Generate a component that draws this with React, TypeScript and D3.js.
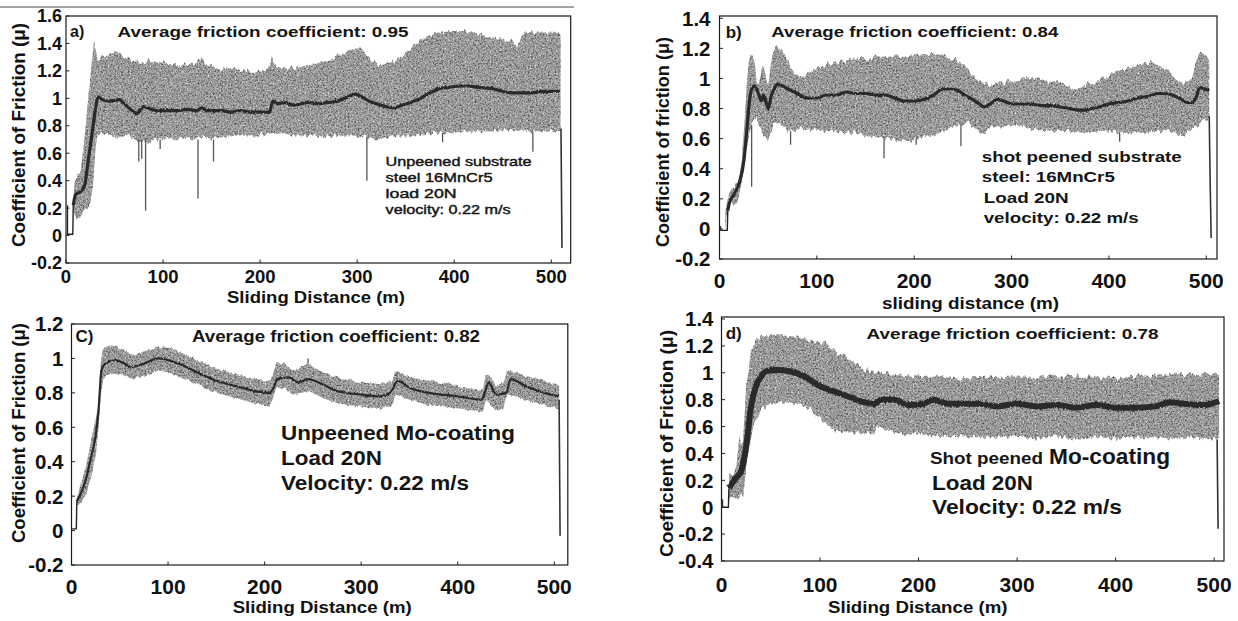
import React from 'react';
import * as d3 from 'd3';

type P = [number, number];
type S = [number, number, number];

// ---------- tick values ----------
const xTicks = [0, 100, 200, 300, 400, 500];
const aYTicks = [-0.2, 0, 0.2, 0.4, 0.6, 0.8, 1, 1.2, 1.4, 1.6];
const bYTicks = [-0.2, 0, 0.2, 0.4, 0.6, 0.8, 1, 1.2, 1.4];
const cYTicks = [-0.2, 0, 0.2, 0.4, 0.6, 0.8, 1, 1.2];
const dYTicks = [-0.4, -0.2, 0, 0.2, 0.4, 0.6, 0.8, 1, 1.2, 1.4];

// ---------- panel a : unpeened substrate ----------
const aUpper: P[] = [[7,0.22],[9,0.4],[12,0.44],[15,0.46],[19,0.7],[22,0.95],[25,1.14],[29,1.43],[31,1.35],[33,1.28],[38,1.3],[45,1.32],[54,1.33],[62,1.3],[70,1.28],[74,1.25],[84,1.27],[94,1.27],[105,1.25],[115,1.24],[125,1.25],[135,1.26],[140,1.3],[143,1.25],[155,1.22],[165,1.22],[176,1.21],[186,1.2],[196,1.19],[205,1.2],[210,1.24],[212,1.32],[214,1.24],[222,1.22],[237,1.22],[247,1.24],[257,1.25],[267,1.27],[277,1.3],[288,1.33],[298,1.38],[304,1.36],[310,1.31],[316,1.27],[322,1.24],[330,1.25],[338,1.27],[346,1.31],[354,1.36],[362,1.41],[371,1.45],[385,1.48],[399,1.49],[410,1.49],[420,1.48],[430,1.46],[440,1.44],[450,1.43],[460,1.41],[464,1.37],[468,1.42],[472,1.48],[485,1.48],[501,1.48],[509.5,1.47]];
const aLower: P[] = [[7,0.2],[10,0.14],[15,0.14],[20,0.19],[25,0.22],[28,0.4],[30,0.6],[32,0.73],[40,0.75],[48,0.73],[55,0.71],[65,0.74],[74,0.68],[84,0.69],[94,0.7],[105,0.71],[115,0.7],[125,0.71],[135,0.71],[145,0.72],[155,0.71],[165,0.72],[176,0.73],[186,0.73],[196,0.73],[206,0.74],[216,0.75],[226,0.74],[237,0.73],[247,0.73],[257,0.73],[267,0.72],[277,0.73],[288,0.73],[298,0.73],[310,0.72],[320,0.7],[330,0.71],[338,0.73],[350,0.73],[360,0.73],[370,0.74],[380,0.75],[390,0.75],[400,0.75],[410,0.76],[420,0.76],[430,0.76],[440,0.76],[450,0.77],[460,0.77],[470,0.76],[480,0.76],[490,0.76],[500,0.76],[509.5,0.76]];
const aMean: P[] = [[7.5,0.22],[10,0.3],[15,0.32],[19,0.36],[23,0.55],[27,0.75],[31,0.95],[33,1.01],[38,0.99],[45,0.98],[55,0.99],[60,0.96],[65,0.93],[70,0.9],[73,0.89],[80,0.94],[88,0.92],[95,0.91],[105,0.91],[115,0.91],[125,0.92],[135,0.91],[140,0.93],[145,0.91],[160,0.91],[170,0.9],[180,0.91],[190,0.9],[200,0.9],[210,0.9],[213,0.98],[218,0.96],[225,0.97],[235,0.95],[250,0.97],[260,0.96],[270,0.97],[280,0.98],[290,1.01],[298,1.03],[305,1.01],[312,0.98],[320,0.96],[330,0.94],[338,0.93],[346,0.95],[355,0.97],[365,1.0],[375,1.04],[385,1.07],[395,1.08],[405,1.09],[415,1.09],[425,1.08],[440,1.07],[450,1.05],[460,1.04],[470,1.04],[480,1.04],[490,1.05],[500,1.05],[509,1.05]];
const aLead: P[] = [[1.5,0.22],[1.5,0.01],[7,0.01],[7.5,0.22]];
const aTail: P[] = [[510,0.78],[511,-0.09]];
const aSpikes: S[] = [[75,0.7,0.54],[78,0.7,0.56],[82,0.7,0.18],[97,0.7,0.63],[136,0.7,0.27],[152,0.7,0.54],[310,0.72,0.4],[388,0.75,0.68],[481,0.76,0.61]];

// ---------- panel b : shot peened substrate ----------
const bUpper: P[] = [[6,0.12],[10,0.24],[15,0.29],[20,0.33],[23,0.45],[25,0.64],[28,0.95],[30,1.1],[32,1.16],[34,1.14],[36,1.11],[38,1.0],[40,0.95],[43,1.05],[45,1.09],[48,1.0],[50,0.95],[53,1.1],[55,1.17],[58,1.21],[62,1.19],[65,1.17],[72,1.09],[80,1.01],[90,1.03],[100,1.07],[110,1.09],[120,1.11],[130,1.12],[140,1.13],[150,1.13],[160,1.14],[170,1.14],[180,1.15],[190,1.15],[200,1.16],[210,1.16],[220,1.17],[228,1.16],[235,1.14],[243,1.12],[250,1.1],[255,1.06],[260,1.02],[265,0.98],[270,0.96],[280,0.96],[290,0.97],[300,0.99],[310,1.0],[320,1.0],[330,0.99],[340,0.98],[350,0.97],[358,0.95],[365,0.93],[372,0.94],[380,0.96],[390,0.99],[400,1.02],[410,1.05],[420,1.07],[430,1.09],[440,1.11],[450,1.09],[460,1.06],[468,1.0],[475,0.95],[480,0.97],[485,1.0],[490,1.12],[493,1.17],[500,1.16],[503,1.12]];
const bLower: P[] = [[6,0.0],[7,0.09],[12,0.16],[18,0.17],[22,0.29],[25,0.42],[28,0.55],[30,0.62],[33,0.69],[38,0.73],[42,0.66],[45,0.62],[50,0.6],[53,0.64],[55,0.69],[60,0.7],[65,0.68],[70,0.65],[80,0.66],[90,0.66],[100,0.66],[110,0.65],[120,0.65],[130,0.64],[140,0.64],[150,0.62],[160,0.61],[170,0.6],[180,0.59],[190,0.59],[200,0.6],[210,0.61],[220,0.62],[230,0.65],[240,0.68],[250,0.7],[255,0.71],[262,0.67],[268,0.63],[274,0.65],[280,0.68],[290,0.68],[300,0.69],[310,0.68],[320,0.66],[330,0.66],[340,0.65],[350,0.65],[360,0.65],[370,0.64],[380,0.64],[390,0.65],[400,0.65],[410,0.64],[420,0.64],[430,0.64],[440,0.64],[450,0.65],[460,0.66],[468,0.64],[475,0.61],[480,0.64],[485,0.66],[490,0.69],[495,0.71],[503,0.73]];
const bMean: P[] = [[8.5,0.12],[10,0.17],[15,0.23],[20,0.3],[25,0.45],[28,0.65],[30,0.8],[33,0.93],[36,0.95],[40,0.9],[43,0.85],[45,0.89],[48,0.84],[50,0.8],[53,0.88],[56,0.93],[60,0.96],[65,0.95],[70,0.93],[80,0.9],[90,0.87],[100,0.87],[110,0.89],[120,0.89],[130,0.91],[140,0.9],[150,0.9],[160,0.89],[170,0.89],[180,0.87],[190,0.85],[200,0.85],[210,0.86],[220,0.89],[230,0.93],[238,0.93],[245,0.92],[252,0.89],[260,0.86],[267,0.83],[272,0.81],[280,0.84],[285,0.86],[292,0.85],[300,0.83],[310,0.83],[320,0.83],[330,0.82],[340,0.82],[350,0.81],[360,0.8],[368,0.79],[375,0.79],[382,0.8],[390,0.81],[400,0.83],[410,0.84],[420,0.85],[430,0.87],[440,0.88],[450,0.9],[458,0.9],[465,0.89],[472,0.87],[480,0.84],[485,0.84],[490,0.88],[493,0.94],[498,0.93],[503,0.92]];
const bLead: P[] = [[1,0.02],[1,-0.01],[8,-0.01],[8.5,0.12]];
const bTail: P[] = [[503,0.75],[504,0.3],[505,-0.06]];
const bSpikes: S[] = [[33,0.69,0.28],[73,0.65,0.56],[169,0.6,0.47],[202,0.6,0.56],[248,0.7,0.55],[411,0.64,0.58]];

// ---------- panel c : unpeened Mo-coating ----------
const cUpper: P[] = [[5.5,0.19],[10,0.28],[15,0.37],[20,0.52],[25,0.64],[28,0.75],[30,0.95],[32,1.04],[36,1.07],[45,1.07],[55,1.05],[62,1.02],[75,1.04],[90,1.07],[100,1.06],[115,1.03],[130,0.99],[150,0.94],[170,0.91],[190,0.88],[200,0.87],[205,0.87],[208,0.9],[212,0.97],[220,0.97],[229,0.93],[238,0.95],[245,0.97],[250,0.95],[260,0.92],[275,0.89],[300,0.86],[320,0.85],[332,0.87],[336,0.93],[340,0.92],[350,0.89],[370,0.87],[400,0.84],[426,0.81],[429,0.91],[433,0.9],[439,0.84],[447,0.85],[451,0.93],[460,0.92],[470,0.9],[490,0.87],[505,0.84]];
const cLower: P[] = [[5.5,0.15],[10,0.16],[15,0.21],[20,0.31],[25,0.43],[28,0.6],[30,0.78],[33,0.88],[36,0.91],[45,0.91],[55,0.9],[62,0.88],[75,0.9],[90,0.93],[100,0.92],[115,0.89],[130,0.85],[150,0.8],[170,0.77],[190,0.74],[200,0.73],[205,0.72],[208,0.76],[212,0.83],[220,0.83],[229,0.79],[238,0.8],[245,0.81],[250,0.8],[260,0.77],[275,0.74],[300,0.72],[320,0.71],[332,0.73],[336,0.79],[340,0.78],[350,0.76],[370,0.73],[400,0.71],[426,0.69],[429,0.76],[433,0.74],[439,0.7],[447,0.71],[451,0.79],[460,0.78],[470,0.76],[490,0.73],[505,0.71]];
const cMean: P[] = [[5.5,0.17],[10,0.22],[15,0.3],[20,0.42],[25,0.55],[28,0.7],[31,0.93],[35,0.97],[45,0.99],[55,0.97],[62,0.95],[75,0.97],[90,1.0],[100,0.99],[115,0.96],[130,0.92],[150,0.87],[170,0.84],[190,0.81],[205,0.8],[210,0.84],[213,0.88],[225,0.89],[235,0.86],[245,0.88],[260,0.85],[275,0.81],[300,0.79],[320,0.78],[330,0.8],[338,0.87],[350,0.83],[370,0.8],[400,0.78],[425,0.76],[428,0.8],[432,0.86],[440,0.79],[450,0.8],[455,0.88],[470,0.84],[490,0.8],[505,0.78]];
const cLead: P[] = [[0.5,0.01],[5,0.01],[5.5,0.17]];
const cTail: P[] = [[505,0.76],[506,-0.03]];
const cSpikes: S[] = [[245,0.97,1.0]];

// ---------- panel d : shot peened Mo-coating ----------
const dUpper: P[] = [[7.5,0.14],[8,0.25],[12,0.24],[15,0.3],[18,0.53],[20,0.45],[22,0.5],[25,0.9],[30,1.15],[35,1.25],[45,1.28],[60,1.28],[75,1.27],[90,1.24],[100,1.21],[105,1.23],[110,1.18],[115,1.16],[130,1.1],[145,1.02],[160,1.0],[180,0.99],[200,0.97],[220,0.97],[240,0.96],[260,0.96],[280,0.97],[300,0.97],[320,0.97],[340,0.98],[360,0.97],[380,0.97],[400,0.96],[420,0.98],[440,0.98],[460,0.99],[480,0.99],[500,1.0],[505,0.98]];
const dLower: P[] = [[7.5,0.0],[8,0.08],[15,0.07],[22,0.08],[25,0.3],[28,0.45],[32,0.6],[40,0.73],[50,0.77],[70,0.78],[85,0.75],[95,0.7],[105,0.63],[115,0.57],[125,0.56],[140,0.55],[155,0.55],[158,0.6],[170,0.57],[185,0.54],[200,0.55],[220,0.53],[240,0.53],[260,0.52],[280,0.52],[300,0.53],[320,0.51],[340,0.53],[360,0.51],[380,0.52],[400,0.51],[420,0.52],[440,0.52],[460,0.51],[480,0.52],[500,0.5],[505,0.5]];
const dMean: P[] = [[7.5,0.14],[10,0.17],[15,0.22],[20,0.27],[25,0.45],[30,0.75],[35,0.9],[40,0.97],[45,1.01],[55,1.02],[70,1.01],[85,0.97],[100,0.9],[115,0.86],[130,0.82],[145,0.78],[155,0.77],[162,0.8],[175,0.8],[190,0.76],[205,0.77],[215,0.8],[230,0.77],[260,0.77],[280,0.75],[300,0.77],[320,0.75],[340,0.76],[360,0.74],[380,0.76],[400,0.74],[420,0.74],[440,0.75],[455,0.78],[470,0.77],[490,0.76],[505,0.79]];
const dLead: P[] = [[1,0.06],[1,0.0],[7,0.0],[7.5,0.14]];
const dTail: P[] = [[503,0.5],[504,-0.16]];
const dSpikes: S[] = [];

// ---------- layout ----------
type Txt = { t: string; x: number; y: number; s: number; w?: number; normal?: boolean };
type Panel = {
  id: string; l: number; r: number; t: number; b: number; xMax: number; yDom: [number, number];
  yTicks: number[]; upper: P[]; lower: P[]; mean: P[]; lead: P[]; tail: P[]; spikes: S[];
  meanW: number; rough: number; yTickFont: number; xTickFont: number; yGap: number; xBase: number;
  yLabel: { t: string; x: number; y: number; len: number };
  xLabel: { t: string; x: number; y: number; len: number };
  texts: Txt[];
};

const panels: Panel[] = [
  {
    id: 'a', l: 66, r: 570.7, t: 16, b: 263, xMax: 520, yDom: [-0.2, 1.6], yTicks: aYTicks,
    upper: aUpper, lower: aLower, mean: aMean, lead: aLead, tail: aTail, spikes: aSpikes,
    meanW: 3.2, rough: 10, yTickFont: 18, xTickFont: 18.5, yGap: 4, xBase: 19.5,
    yLabel: { t: 'Coefficient of Friction (μ)', x: 18, y: 135, len: 224 },
    xLabel: { t: 'Sliding Distance (m)', x: 227, y: 303, len: 178 },
    texts: [
      { t: 'a)', x: 70, y: 37, s: 16 },
      { t: 'Average friction coefficient: 0.95', x: 117.6, y: 37, s: 15.5, w: 291 },
      { t: 'Unpeened substrate', x: 385.6, y: 166, s: 13.5, w: 146, normal: true },
      { t: 'steel 16MnCr5', x: 385.6, y: 182, s: 13.5, w: 107, normal: true },
      { t: 'load 20N', x: 385.6, y: 198, s: 13.5, w: 71, normal: true },
      { t: 'velocity: 0.22 m/s', x: 385.6, y: 214, s: 13.5, w: 125, normal: true },
    ],
  },
  {
    id: 'b', l: 719.5, r: 1217, t: 16, b: 259, xMax: 511, yDom: [-0.2, 1.415], yTicks: bYTicks,
    upper: bUpper, lower: bLower, mean: bMean, lead: bLead, tail: bTail, spikes: bSpikes,
    meanW: 3.2, rough: 10, yTickFont: 20.5, xTickFont: 21, yGap: 9, xBase: 29,
    yLabel: { t: 'Coefficient of friction (μ)', x: 662, y: 142, len: 210 },
    xLabel: { t: 'sliding distance (m)', x: 882, y: 309, len: 177 },
    texts: [
      { t: 'b)', x: 725.7, y: 38, s: 17 },
      { t: 'Average friction coefficient: 0.84', x: 771.3, y: 37, s: 15.5, w: 287 },
      { t: 'shot peened substrate', x: 981.8, y: 162, s: 15, w: 200 },
      { t: 'steel: 16MnCr5', x: 981.8, y: 182, s: 15, w: 133 },
      { t: 'Load 20N', x: 983.7, y: 203, s: 15, w: 85 },
      { t: 'velocity: 0.22 m/s', x: 983.7, y: 223, s: 15, w: 155 },
    ],
  },
  {
    id: 'c', l: 71.5, r: 567.8, t: 324, b: 565, xMax: 514, yDom: [-0.2, 1.2], yTicks: cYTicks,
    upper: cUpper, lower: cLower, mean: cMean, lead: cLead, tail: cTail, spikes: cSpikes,
    meanW: 2.2, rough: 5, yTickFont: 20.5, xTickFont: 21, yGap: 8, xBase: 29,
    yLabel: { t: 'Coefficient of Friction (μ)', x: 18.7, y: 433, len: 220 },
    xLabel: { t: 'Sliding Distance (m)', x: 232.7, y: 613, len: 179 },
    texts: [
      { t: 'C)', x: 75.5, y: 342, s: 17 },
      { t: 'Average friction coefficient: 0.82', x: 192, y: 342, s: 16, w: 288 },
      { t: 'Unpeened Mo-coating', x: 281, y: 440, s: 21, w: 234 },
      { t: 'Load 20N', x: 281, y: 465, s: 21, w: 101 },
      { t: 'Velocity: 0.22 m/s', x: 281, y: 490, s: 21, w: 188 },
    ],
  },
  {
    id: 'd', l: 721.5, r: 1224, t: 317, b: 561, xMax: 510, yDom: [-0.4, 1.415], yTicks: dYTicks,
    upper: dUpper, lower: dLower, mean: dMean, lead: dLead, tail: dTail, spikes: dSpikes,
    meanW: 6, rough: 10, yTickFont: 20.5, xTickFont: 21, yGap: 8, xBase: 31,
    yLabel: { t: 'Coefficient of Friction (μ)', x: 666, y: 443.5, len: 227 },
    xLabel: { t: 'Sliding Distance (m)', x: 828, y: 613, len: 179.5 },
    texts: [
      { t: 'd)', x: 725.7, y: 339, s: 17 },
      { t: 'Average friction coefficient: 0.78', x: 866.6, y: 339, s: 15.5, w: 292 },
      { t: 'Shot peened', x: 930, y: 464, s: 16, w: 113 },
      { t: 'Mo-coating', x: 1049, y: 464, s: 22, w: 121 },
      { t: 'Load 20N', x: 932, y: 490, s: 21, w: 101 },
      { t: 'Velocity: 0.22 m/s', x: 932, y: 514, s: 21, w: 190 },
    ],
  },
];

const FONT = '"Liberation Sans", Arial, Helvetica, sans-serif';
const fmt = (v: number) => String(Math.round(v * 10) / 10);

function PanelView({ p }: { p: Panel }) {
  const x = d3.scaleLinear().domain([0, p.xMax]).range([p.l, p.r]);
  const y = d3.scaleLinear().domain(p.yDom).range([p.b, p.t]);
  const line = d3.line<P>().x((d) => x(d[0])).y((d) => y(d[1]));
  const band = line([...p.upper, ...p.lower.slice().reverse()]) + 'Z';
  const smooth = d3.line<P>().x((d) => x(d[0])).y((d) => y(d[1])).curve(d3.curveMonotoneX);
  return (
    <g>
      <defs>
        <clipPath id={`clip-${p.id}`}>
          <rect x={p.l + 0.6} y={p.t + 0.6} width={p.r - p.l - 1.2} height={p.b - p.t - 1.2} />
        </clipPath>
        <filter id={`spk-${p.id}`} x="-2%" y="-20%" width="104%" height="140%" colorInterpolationFilters="sRGB">
          <feTurbulence type="fractalNoise" baseFrequency="0.3 0.03" numOctaves={2} seed={3} result="warp0" />
          <feColorMatrix in="warp0" type="matrix" values="0 0 0 0 0.5  0 1 0 0 0  0 0 1 0 0  0 0 0 0 1" result="warp" />
          <feDisplacementMap in="SourceGraphic" in2="warp" scale={p.rough} xChannelSelector="R" yChannelSelector="G" result="rough" />
          <feTurbulence type="fractalNoise" baseFrequency="0.6" numOctaves={2} seed={7} result="grain" />
          <feColorMatrix in="grain" type="matrix" values="0 0 0 0 0.3  0 0 0 0 0.3  0 0 0 0 0.3  3 0 0 0 -1.35" result="dk" />
          <feComposite in="dk" in2="rough" operator="in" result="dkIn" />
          <feColorMatrix in="grain" type="matrix" values="0 0 0 0 0.9  0 0 0 0 0.9  0 0 0 0 0.9  0 -3 0 0 1.4" result="lt" />
          <feComposite in="lt" in2="rough" operator="in" result="ltIn" />
          <feMerge>
            <feMergeNode in="rough" />
            <feMergeNode in="dkIn" />
            <feMergeNode in="ltIn" />
          </feMerge>
        </filter>
        <filter id={`jit-${p.id}`} x="-2%" y="-30%" width="104%" height="160%" colorInterpolationFilters="sRGB">
          <feTurbulence type="fractalNoise" baseFrequency="0.6 0.2" numOctaves={1} seed={11} result="w0" />
          <feColorMatrix in="w0" type="matrix" values="0 0 0 0 0.5  0 1 0 0 0  0 0 1 0 0  0 0 0 0 1" result="w" />
          <feDisplacementMap in="SourceGraphic" in2="w" scale={3} xChannelSelector="R" yChannelSelector="G" />
        </filter>
      </defs>

      <g clipPath={`url(#clip-${p.id})`}>
        <path d={band} fill="#a3a3a3" filter={`url(#spk-${p.id})`} />
        {p.spikes.map((s, i) => (
          <line key={i} x1={x(s[0])} x2={x(s[0])} y1={y(s[1])} y2={y(s[2])} stroke="#555" strokeWidth={1.3} />
        ))}
        <path d={smooth(p.mean) || ''} fill="none" stroke="#2a2a2a" strokeWidth={p.meanW} strokeLinejoin="round" filter={`url(#jit-${p.id})`} />
        <path d={line(p.lead) || ''} fill="none" stroke="#222" strokeWidth={1.4} />
        <path d={line(p.tail) || ''} fill="none" stroke="#333" strokeWidth={1.6} />
      </g>

      <rect x={p.l} y={p.t} width={p.r - p.l} height={p.b - p.t} fill="none" stroke="#1a1a1a" strokeWidth={1.2} />

      {xTicks.map((v) => (
        <g key={`x${v}`}>
          <line x1={x(v)} x2={x(v)} y1={p.b} y2={p.b - 3.5} stroke="#222" strokeWidth={1} />
          <text x={x(v)} y={p.b + p.xBase} textAnchor="middle" fontSize={p.xTickFont} fontWeight="bold" fontFamily={FONT} fill="#111">
            {fmt(v)}
          </text>
        </g>
      ))}
      {p.yTicks.map((v) => (
        <g key={`y${v}`}>
          <line x1={p.l} x2={p.l + 3.5} y1={y(v)} y2={y(v)} stroke="#222" strokeWidth={1} />
          <text x={p.l - p.yGap} y={y(v)} dy="0.36em" textAnchor="end" fontSize={p.yTickFont} fontWeight="bold" fontFamily={FONT} fill="#111">
            {fmt(v)}
          </text>
        </g>
      ))}

      <text
        transform={`translate(${p.yLabel.x + 6.5},${p.yLabel.y}) rotate(-90)`}
        textAnchor="middle" fontSize={18} fontWeight="bold" fontFamily={FONT} fill="#111"
        textLength={p.yLabel.len} lengthAdjust="spacingAndGlyphs"
      >
        {p.yLabel.t}
      </text>
      <text x={p.xLabel.x} y={p.xLabel.y} fontSize={16.5} fontWeight="bold" fontFamily={FONT} fill="#111"
        textLength={p.xLabel.len} lengthAdjust="spacingAndGlyphs">
        {p.xLabel.t}
      </text>

      {p.texts.map((t, i) => (
        <text key={i} x={t.x} y={t.y} fontSize={t.s} fontWeight={t.normal ? 'normal' : 'bold'} fontFamily={FONT} fill="#151515"
          stroke={t.normal ? '#151515' : undefined} strokeWidth={t.normal ? 0.45 : undefined}
          textLength={t.w} lengthAdjust={t.w ? 'spacingAndGlyphs' : undefined}>
          {t.t}
        </text>
      ))}
    </g>
  );
}

export default function App() {
  return (
    <svg width={1238} height={621} viewBox="0 0 1238 621"
      style={{ position: 'absolute', left: 0, top: 0, display: 'block', background: '#fff' }}>
      <rect x={0} y={0} width={1238} height={621} fill="#fff" />
      <line x1={0} x2={574} y1={7} y2={7} stroke="#444" strokeWidth={1} />
      {panels.map((p) => (
        <PanelView key={p.id} p={p} />
      ))}
    </svg>
  );
}
